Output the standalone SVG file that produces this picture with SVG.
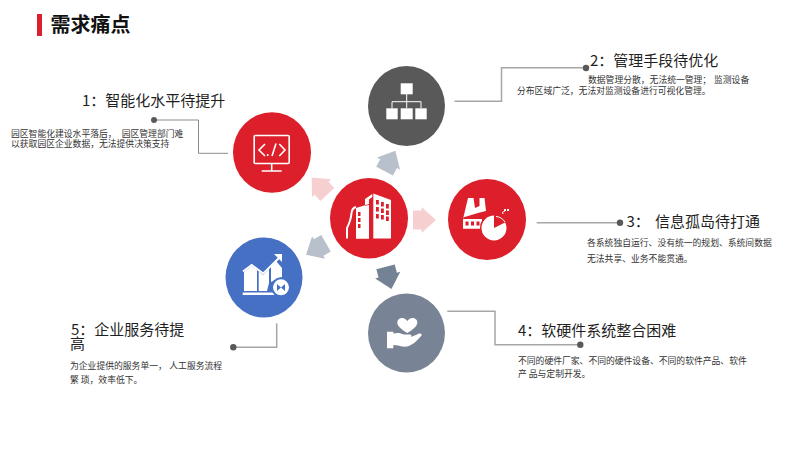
<svg xmlns="http://www.w3.org/2000/svg" width="800" height="450" viewBox="0 0 800 450">
<defs>
<style>
text{font-family:"Noto Sans CJK SC","Liberation Sans",sans-serif}
.h{font-size:15px;fill:#1f1f1f}
.b{font-size:8.8px;fill:#333}
.c{fill:none;stroke:#a6a6a6;stroke-width:1.5}
.t{fill:none;stroke:#8c8c8c;stroke-width:1}
.d{fill:#595959}
.w{fill:#fff}
.ws{fill:none;stroke:#fff;stroke-width:1.6}
</style>
<path id="arr" d="M-11.5,-9.5H-3V-13L11.5,0L-3,13V9.5H-11.5Z"/>
</defs>
<rect width="800" height="450" fill="#fff"/>
<g id="title">
<rect x="37" y="14" width="5" height="22" fill="#dc1f2e"/>
<text x="50.500" y="32" font-size="20" font-weight="700" style="font-size:20px" fill="#111">需求痛点</text>
</g>
<g id="connectors">
<path class="t" d="M154,120H198.500V153.300H228"/><circle class="d" cx="154" cy="120" r="3"/>
<path class="c" d="M454.500,101.300H501.500V67.800H586"/><circle class="d" cx="586" cy="68" r="3.200"/>
<path class="c" d="M536.700,222.700H620"/><circle class="d" cx="620" cy="222.700" r="3.200"/>
<path class="c" d="M447.300,311.300H495V344.700H580"/><circle class="d" cx="580.300" cy="344.700" r="3.200"/>
<path class="c" d="M276.700,323.300V347.300H233"/><circle class="d" cx="233.300" cy="347.300" r="3.200"/>
<use href="#arr" transform="translate(424.500,220)" fill="#f6cfd1"/>
<use href="#arr" transform="translate(390,161) rotate(-62)" fill="#b8c0cb"/>
<use href="#arr" transform="translate(319.500,186) rotate(-133)" fill="#f6cfd1"/>
<use href="#arr" transform="translate(316,249) rotate(150)" fill="#b8c0cb"/>
<use href="#arr" transform="translate(388.500,278) rotate(75)" fill="#748295"/>
</g>
<g id="node-center">
<ellipse cx="369" cy="218.300" rx="39" ry="40.300" fill="#dc1f2a"/>
<path class="w" d="M373.300,193.500L391,200V238.500H373.300Z"/>
<path class="w" d="M365,199L372.300,194V197L369,199.500V204L356,208V238.500H369V205L365,206Z"/>
<path class="w" d="M356,209L369,205V238.500H356Z"/>
<path class="ws" style="stroke-width:2" d="M347,238.500V228Q351,220 351.500,213Q352,208 356,207"/>
<g fill="#dc1f2a">
<rect x="376" y="200" width="2.800" height="4.500"/><rect x="381" y="202" width="2.800" height="4.500"/><rect x="386" y="204" width="2.800" height="4.500"/>
<rect x="376" y="207" width="2.800" height="4.500"/><rect x="381" y="208.500" width="2.800" height="4.500"/><rect x="386" y="210.500" width="2.800" height="4.500"/>
<rect x="376" y="214" width="2.800" height="4.500"/><rect x="381" y="215" width="2.800" height="4.500"/><rect x="386" y="216.500" width="2.800" height="4.500"/>
<rect x="358" y="212" width="2.500" height="4"/><rect x="358" y="218" width="2.500" height="4"/><rect x="358" y="224" width="2.500" height="4"/>
</g>
</g>
<g id="node-1">
<ellipse cx="272" cy="152.500" rx="39" ry="40.300" fill="#dc1f2a"/>
<rect class="ws" x="254.200" y="135.500" width="35" height="28" rx="1"/>
<path class="ws" d="M265,144L259,150L265,156M279.300,144L285,150L279.300,156M276,143.500L272,156M271.700,164V171M261.700,171H281.700"/>
<circle class="w" cx="267.700" cy="155" r="1"/>
</g>
<g id="node-2">
<ellipse cx="406.500" cy="106" rx="38.500" ry="40" fill="#595959"/>
<rect class="w" x="400.700" y="83.300" width="12" height="11"/>
<rect class="w" x="386.300" y="108.300" width="11.400" height="11"/>
<rect class="w" x="400.700" y="108.300" width="12" height="11"/>
<rect class="w" x="415.300" y="108.300" width="11.400" height="11"/>
<path class="ws" style="stroke-width:1" d="M406.700,94V108M392,108V101.700H421V108"/>
</g>
<g id="node-3">
<ellipse cx="487" cy="219.500" rx="39" ry="40.500" fill="#dc1f2a"/>
<path class="w" d="M468,198H473.500L475,208L479.500,206L479.500,198H484.500L486,211L478,213L463,217.500V228.500H482V219L463,219Z"/>
<path class="w" d="M463,220H482V228.500H463Z"/>
<g fill="#dc1f2a"><rect x="465.500" y="221.500" width="3" height="4"/><rect x="471" y="221.500" width="3" height="4"/><rect x="476.500" y="221.500" width="3" height="4"/></g>
<circle cx="494" cy="228" r="14" fill="#dc1f2a"/>
<circle class="w" cx="494" cy="228" r="12.500"/>
<path d="M494,228V214.500A13.500,13.500 0 0 1 506,222Z" fill="#dc1f2a"/>
<path class="ws" style="stroke-width:1" d="M496,216.500A12,12 0 0 1 505,222"/>
<path class="ws" style="stroke-width:1" d="M503,214Q501,212 505,211"/>
<g class="w"><rect x="504" y="209" width="2" height="2"/><rect x="507" y="209" width="2" height="2"/></g>
</g>
<g id="node-4">
<ellipse cx="406.500" cy="333" rx="38.500" ry="39.500" fill="#788495"/>
<path class="w" d="M407.300,333C400,328.500 397.300,325.500 397.300,322.500C397.300,319.500 399.500,318 402,318C404.500,318 406.300,319.500 407.300,321C408.300,319.500 410,318 412.500,318C415,318 417.300,319.500 417.300,322.500C417.300,325.500 414.500,328.500 407.300,333Z"/>
<path class="w" d="M387,331.700H393.300V333.500C397,332.500 401,333 404,334.500H410C411.500,334.500 412,336 411,337L417,334.500C419.500,332.500 422.500,333.500 421.500,335.500C417,341 411,346.700 405,346.700C401,346.700 397,345 393.300,345V348.300H387Z"/>
</g>
<g id="node-5">
<ellipse cx="264" cy="277.500" rx="38.500" ry="40" fill="#4570c4"/>
<path class="w" d="M244,272L251.700,266L257,270V291H244ZM258.700,271.500L263.300,275L269,269V283L267,291H258.700ZM271,267L276,261L282,268V277L271,282Z"/>
<path class="ws" style="stroke-width:2" d="M243,271.500L251.700,265L263.300,273.500L280,257"/>
<path class="w" d="M274,254L282,254L282,262Z"/>
<rect class="w" x="242.700" y="292.500" width="32" height="2.500"/>
<circle cx="281" cy="287.300" r="10" fill="#4570c4"/>
<circle class="w" cx="281" cy="287.300" r="8"/>
<path d="M277,284V291L281,287.500ZM285,284V291L281,287.500Z" fill="#4570c4"/>
</g>
<g id="label-1">
<text class="h" x="82" y="106">1：智能化水平待提升</text>
<text class="b" x="11" y="136.500">园区智能化建设水平落后，<tspan x="121.700">园区管理部门难</tspan></text>
<text class="b" x="11" y="147">以获取园区企业数据，无法提供决策支持</text>
</g>
<g id="label-2">
<text class="h" x="590" y="66">2：管理手段待优化</text>
<text class="b" x="588" y="83">数据管理分散，无法统一管理；<tspan x="714">监测设备</tspan></text>
<text class="b" x="517" y="94">分布区域广泛，无法对监测设备进行可视化管理。</text>
</g>
<g id="label-3">
<text class="h" x="626.500" y="227">3：<tspan x="655">信息孤岛待打通</tspan></text>
<text class="b" x="587" y="246">各系统独自运行、没有统一的规划、系统间数据</text>
<text class="b" x="587" y="262">无法共享、业务不能贯通。</text>
</g>
<g id="label-4">
<text class="h" x="518" y="336">4：软硬件系统整合困难</text>
<text class="b" x="518" y="364">不同的硬件厂家、不同的硬件设备、不同的软件产品、软件</text>
<text class="b" x="518" y="377">产 品与定制开发。</text>
</g>
<g id="label-5">
<text class="h" x="71" y="335">5：企业服务待提</text>
<text class="h" x="70" y="349">高</text>
<text class="b" x="70" y="369">为企业提供的服务单一，<tspan x="169.300">人工服务流程</tspan></text>
<text class="b" x="70" y="383">繁 琐，效率低下。</text>
</g>
</svg>
